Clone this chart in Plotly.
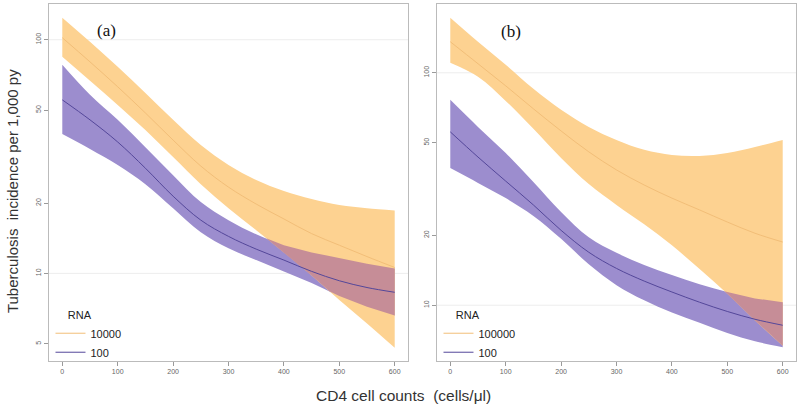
import numpy as np
import plotly.graph_objects as go

# ---------------- data ----------------
cd4 = [0, 50, 100, 150, 200, 250, 300, 350, 400, 450, 500, 550, 600]

# panel (a): RNA 10000 vs RNA 100
a_hi_upper = [124.3, 98.0, 76.6, 59.2, 45.4, 35.4, 29.1, 25.1, 22.5, 20.8, 19.6, 19.0, 18.6]
a_hi_mid   = [102.0, 80.4, 62.9, 48.6, 37.2, 28.8, 23.4, 19.8, 17.1, 14.8, 13.2, 11.8, 10.6]
a_hi_lower = [84.5, 66.7, 52.6, 41.1, 31.5, 24.1, 19.0, 15.3, 12.3, 9.8, 7.7, 6.1, 4.8]
a_lo_upper = [78.1, 58.1, 45.4, 34.7, 26.3, 20.2, 16.9, 14.7, 13.2, 12.3, 11.6, 11.0, 10.5]
a_lo_mid   = [55.3, 45.4, 36.5, 28.2, 21.4, 16.9, 14.4, 12.7, 11.4, 10.2, 9.3, 8.7, 8.3]
a_lo_lower = [39.5, 34.1, 29.1, 24.1, 19.0, 15.0, 12.8, 11.4, 10.2, 9.1, 8.0, 7.2, 6.6]

# panel (b): RNA 100000 vs RNA 100
b_hi_upper = [172.6, 136.0, 108.3, 85.3, 69.3, 58.5, 51.4, 46.6, 44.3, 43.9, 45.2, 48.0, 51.4]
b_hi_mid   = [136.0, 109.4, 87.9, 70.0, 56.2, 45.7, 38.2, 32.9, 28.9, 25.7, 22.8, 20.4, 18.7]
b_hi_lower = [110.4, 96.1, 75.7, 57.4, 43.0, 33.2, 27.0, 22.3, 18.1, 14.3, 11.2, 8.6, 6.7]
b_lo_upper = [76.5, 58.5, 45.2, 33.9, 25.2, 19.6, 16.8, 14.9, 13.5, 12.3, 11.4, 10.7, 10.3]
b_lo_mid   = [55.7, 43.4, 34.2, 27.0, 21.0, 16.9, 14.4, 12.7, 11.4, 10.3, 9.4, 8.7, 8.2]
b_lo_lower = [38.9, 33.6, 28.9, 24.2, 19.3, 15.0, 12.2, 10.5, 9.3, 8.4, 7.6, 7.0, 6.6]

a_labels = ["10000", "100"]
b_labels = ["100000", "100"]
legend_title = "RNA"
panel_labels = ["(a)", "(b)"]
x_ticks = [0, 100, 200, 300, 400, 500, 600]
ya_ticks = [5, 10, 20, 50, 100]
yb_ticks = [10, 20, 50, 100]
grid_levels = [10, 100]

# ---------------- styles ----------------
ORANGE_FILL = "#FDD291"
ORANGE_LINE = "#F2BE78"
PURPLE_FILL = "#9C8DCE"
PURPLE_LINE = "#54479A"
OVERLAP_FILL = "#C68D97"
FRAME = "#BBBBBB"


def overlap_band(x, uppers, lowers):
    """Region where the two confidence bands overlap (log space, exact for
    the piecewise-linear polygons)."""
    x = np.asarray(x, float)
    lu = [np.log10(np.asarray(c, float)) for c in uppers]
    ll = [np.log10(np.asarray(c, float)) for c in lowers]
    allc = lu + ll
    cand = list(x)
    for i in range(len(x) - 1):
        for a in range(len(allc)):
            for b in range(a + 1, len(allc)):
                d0 = allc[a][i] - allc[b][i]
                d1 = allc[a][i + 1] - allc[b][i + 1]
                if d0 * d1 < 0:
                    t = d0 / (d0 - d1)
                    cand.append(x[i] + t * (x[i + 1] - x[i]))
    xs = np.unique(cand)
    top = np.minimum.reduce([np.interp(xs, x, c) for c in lu])
    bot = np.maximum.reduce([np.interp(xs, x, c) for c in ll])
    keep = top >= bot - 1e-9
    return xs[keep], 10 ** bot[keep], 10 ** top[keep]


fig = go.Figure()


def add_panel(xa, ya, leg, hi_u, hi_m, hi_l, lo_u, lo_m, lo_l, labels):
    common = dict(xaxis=xa, yaxis=ya, hoverinfo="skip")
    # purple band
    fig.add_trace(go.Scatter(x=cd4, y=lo_l, mode="lines", line=dict(width=0, shape="spline"),
                             showlegend=False, **common))
    fig.add_trace(go.Scatter(x=cd4, y=lo_u, mode="lines", line=dict(width=0, shape="spline"),
                             fill="tonexty", fillcolor=PURPLE_FILL, showlegend=False, **common))
    # orange band
    fig.add_trace(go.Scatter(x=cd4, y=hi_l, mode="lines", line=dict(width=0, shape="spline"),
                             showlegend=False, **common))
    fig.add_trace(go.Scatter(x=cd4, y=hi_u, mode="lines", line=dict(width=0, shape="spline"),
                             fill="tonexty", fillcolor=ORANGE_FILL, showlegend=False, **common))
    # overlap of the two bands
    ox, ob, ot = overlap_band(cd4, [hi_u, lo_u], [hi_l, lo_l])
    fig.add_trace(go.Scatter(x=ox, y=ob, mode="lines", line=dict(width=0),
                             showlegend=False, **common))
    fig.add_trace(go.Scatter(x=ox, y=ot, mode="lines", line=dict(width=0),
                             fill="tonexty", fillcolor=OVERLAP_FILL, showlegend=False, **common))
    # central estimates
    fig.add_trace(go.Scatter(x=cd4, y=hi_m, mode="lines", name=labels[0],
                             line=dict(color=ORANGE_LINE, width=1, shape="spline"),
                             legend=leg, legendrank=1, **common))
    fig.add_trace(go.Scatter(x=cd4, y=lo_m, mode="lines", name=labels[1],
                             line=dict(color=PURPLE_LINE, width=1, shape="spline"),
                             legend=leg, legendrank=2, **common))


add_panel("x", "y", "legend", a_hi_upper, a_hi_mid, a_hi_lower,
          a_lo_upper, a_lo_mid, a_lo_lower, a_labels)
add_panel("x2", "y2", "legend2", b_hi_upper, b_hi_mid, b_hi_lower,
          b_lo_upper, b_lo_mid, b_lo_lower, b_labels)

xcommon = dict(range=[-24, 624], tickvals=x_ticks, ticks="outside", ticklen=4,
               tickcolor="#9A9A9A", tickfont=dict(size=7, color="#666666"),
               showgrid=False, zeroline=False, showline=True, mirror=True,
               linecolor=FRAME, linewidth=1, automargin=False)
ycommon = dict(type="log", ticks="outside", ticklen=4, tickcolor="#9A9A9A",
               tickfont=dict(size=7, color="#666666"), tickangle=-90,
               showgrid=False, zeroline=False, showline=True, mirror=True,
               linecolor=FRAME, linewidth=1, automargin=False)

DOM_A = [0.0, 0.4806]
DOM_B = [0.5194, 1.0]

legend_style = dict(xanchor="left", yanchor="bottom", y=-0.018,
                    bgcolor="rgba(0,0,0,0)", font=dict(size=11, color="#222222"),
                    traceorder="normal", tracegroupgap=0,
                    title=dict(text="\u00a0\u00a0\u00a0\u00a0\u00a0" + legend_title,
                               font=dict(size=11, color="#222222")))

fig.update_layout(
    width=800, height=412,
    margin=dict(l=49, r=4, t=4, b=51, autoexpand=False),
    paper_bgcolor="white", plot_bgcolor="white",
    font=dict(family="Liberation Sans, Arial, sans-serif", color="#222222"),
    xaxis=dict(domain=DOM_A, anchor="y", **xcommon),
    yaxis=dict(domain=[0, 1], anchor="x", range=[0.625, 2.153],
               tickvals=ya_ticks, ticktext=[str(v) for v in ya_ticks], **ycommon),
    xaxis2=dict(domain=DOM_B, anchor="y2", **xcommon),
    yaxis2=dict(domain=[0, 1], anchor="x2", range=[0.760, 2.296],
                tickvals=yb_ticks, ticktext=[str(v) for v in yb_ticks], **ycommon),
    legend=dict(x=DOM_A[0] + 0.002, **legend_style),
    legend2=dict(x=DOM_B[0] + 0.002, **legend_style),
)

# faint reference grid lines
for yr, xr in (("y", "x"), ("y2", "x2")):
    for lv in grid_levels:
        fig.add_shape(type="line", xref=f"{xr} domain", yref=yr, x0=0, x1=1, y0=lv, y1=lv,
                      line=dict(color="#EDEDED", width=1), layer="below")

serif = dict(family="Liberation Serif, Times New Roman, serif", size=17, color="#111111")
# panel labels
fig.add_annotation(text=panel_labels[0], xref="paper", yref="paper", x=0.0776, y=0.927,
                   xanchor="center", yanchor="middle", showarrow=False, font=serif)
fig.add_annotation(text=panel_labels[1], xref="paper", yref="paper", x=0.6185, y=0.9216,
                   xanchor="center", yanchor="middle", showarrow=False, font=serif)
# axis titles
fig.add_annotation(text="Tuberculosis  incidence per 1,000 py", xref="paper", yref="paper",
                   x=-0.0495, y=0.476, xanchor="center", yanchor="middle",
                   textangle=-90, showarrow=False, font=dict(size=15, color="#333333"))
fig.add_annotation(text="CD4 cell counts  (cells/\u03bcl)", xref="paper", yref="paper",
                   x=0.4752, y=-0.098, xanchor="center", yanchor="middle",
                   showarrow=False, font=dict(size=15.5, color="#333333"))

fig.write_html("out.html", config={"displayModeBar": False},
               post_script="document.body.style.margin='0px';")
